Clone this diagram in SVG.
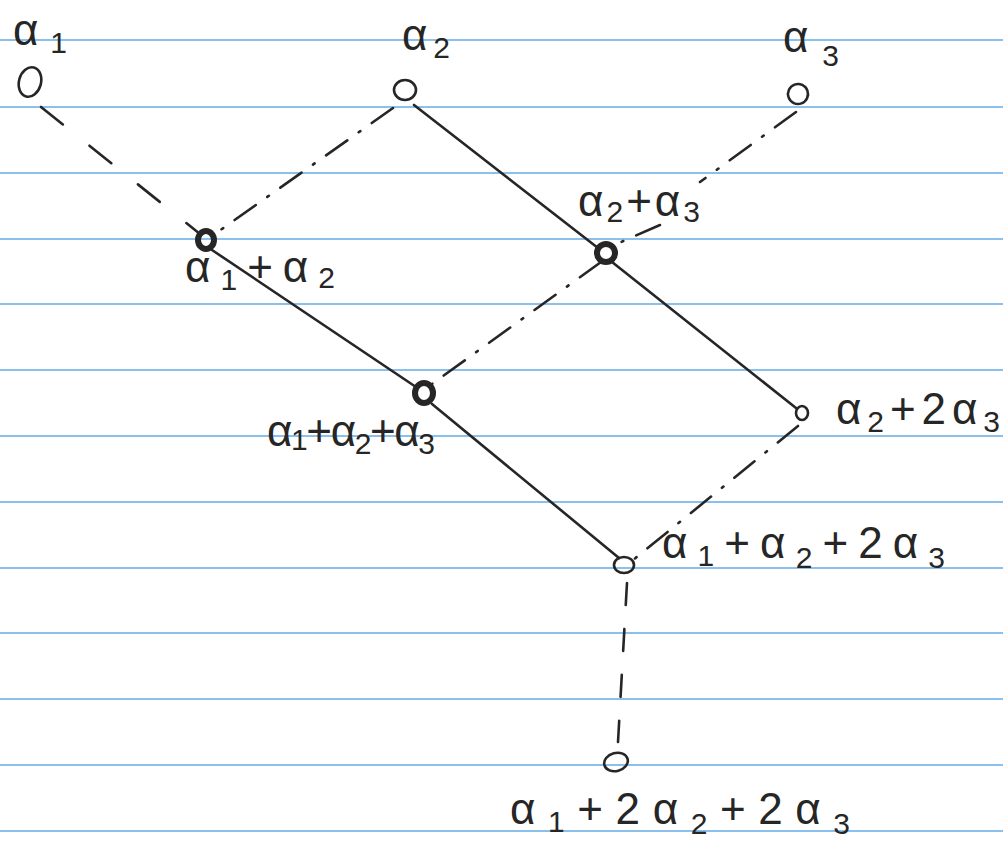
<svg xmlns="http://www.w3.org/2000/svg" width="1003" height="843" viewBox="0 0 1003 843">
<style>
.rule{stroke:#8cc0ec;stroke-width:2.2}
.ink{stroke:#262626;fill:none;stroke-width:2.6;stroke-linecap:round}
.dash{stroke-dasharray:28 34}
.dd{stroke-dasharray:26 14 2 14}
.vd{stroke-dasharray:22 24}
.node{fill:none;stroke:#262626;stroke-width:2.6}
.bold{fill:none;stroke:#262626;stroke-width:6}
.lbl{font-family:"Liberation Sans","DejaVu Sans",sans-serif;font-size:44px;fill:#262626}
.sub{font-size:30px}
</style>
<rect width="1003" height="843" fill="#ffffff"/>
<g id="ruling">
<line class="rule" x1="0" y1="40" x2="1003" y2="40"/>
<line class="rule" x1="0" y1="107" x2="1003" y2="107"/>
<line class="rule" x1="0" y1="173" x2="1003" y2="173"/>
<line class="rule" x1="0" y1="239" x2="1003" y2="239"/>
<line class="rule" x1="0" y1="304" x2="1003" y2="304"/>
<line class="rule" x1="0" y1="370" x2="1003" y2="370"/>
<line class="rule" x1="0" y1="436" x2="1003" y2="436"/>
<line class="rule" x1="0" y1="502" x2="1003" y2="502"/>
<line class="rule" x1="0" y1="568" x2="1003" y2="568"/>
<line class="rule" x1="0" y1="633" x2="1003" y2="633"/>
<line class="rule" x1="0" y1="699" x2="1003" y2="699"/>
<line class="rule" x1="0" y1="765" x2="1003" y2="765"/>
<line class="rule" x1="0" y1="831" x2="1003" y2="831"/>
</g>
<g id="connectors">
<line class="ink dash" x1="41" y1="107" x2="200" y2="234"/>
<line class="ink dd" x1="393" y1="108" x2="212" y2="236"/>
<line class="ink" x1="414" y1="105" x2="598" y2="248"/>
<line class="ink dd" x1="796" y1="112" x2="700" y2="182"/>
<line class="ink dd" x1="660" y1="225" x2="612" y2="246"/>
<line class="ink" x1="212" y1="250" x2="416" y2="387"/>
<line class="ink dd" x1="601" y1="262" x2="432" y2="384"/>
<line class="ink" x1="612" y1="262" x2="796" y2="408"/>
<line class="ink" x1="432" y1="404" x2="619" y2="558"/>
<line class="ink dd" x1="798" y1="426" x2="633" y2="560"/>
<line class="ink vd" x1="627" y1="583" x2="618" y2="742"/>
</g>
<g id="n-a1"><ellipse class="node" cx="30" cy="82" rx="11" ry="15" transform="rotate(15 30 82)"/>
<text class="lbl" x="13" y="45" textLength="54" lengthAdjust="spacing">α<tspan class="sub" dy="8">1</tspan></text></g>
<g id="n-a2"><ellipse class="node" cx="405" cy="90" rx="11" ry="10"/>
<text class="lbl" x="402" y="50" textLength="48" lengthAdjust="spacing">α<tspan class="sub" dy="8">2</tspan></text></g>
<g id="n-a3"><ellipse class="node" cx="798" cy="94" rx="10" ry="10" transform="rotate(-20 798 94)"/>
<text class="lbl" x="783" y="52" textLength="56" lengthAdjust="spacing">α<tspan class="sub" dy="14">3</tspan></text></g>
<g id="n-a1a2"><ellipse class="bold" cx="206" cy="240" rx="8" ry="9"/>
<text class="lbl" x="185" y="282" textLength="150" lengthAdjust="spacing">α<tspan class="sub" dy="8">1</tspan><tspan dy="-8">+α</tspan><tspan class="sub" dy="6">2</tspan></text></g>
<g id="n-a2a3"><ellipse class="bold" cx="606" cy="253" rx="9" ry="9"/>
<text class="lbl" x="578" y="216" textLength="122" lengthAdjust="spacing">α<tspan class="sub" dy="6">2</tspan><tspan dy="-6">+α</tspan><tspan class="sub" dy="6">3</tspan></text></g>
<g id="n-a1a2a3"><ellipse class="bold" cx="424" cy="393" rx="9" ry="10"/>
<text class="lbl" x="267" y="446" textLength="168" lengthAdjust="spacing">α<tspan class="sub" dy="4">1</tspan><tspan dy="-4">+α</tspan><tspan class="sub" dy="8">2</tspan><tspan dy="-8">+α</tspan><tspan class="sub" dy="8">3</tspan></text></g>
<g id="n-a2_2a3"><ellipse class="node" cx="802" cy="413" rx="6" ry="7"/>
<text class="lbl" x="836" y="424" textLength="164" lengthAdjust="spacing">α<tspan class="sub" dy="8">2</tspan><tspan dy="-8">+2α</tspan><tspan class="sub" dy="8">3</tspan></text></g>
<g id="n-a1a2_2a3"><ellipse class="node" cx="624" cy="565" rx="10" ry="8"/>
<text class="lbl" x="662" y="558" textLength="283" lengthAdjust="spacing">α<tspan class="sub" dy="8">1</tspan><tspan dy="-8">+α</tspan><tspan class="sub" dy="10">2</tspan><tspan dy="-10">+2α</tspan><tspan class="sub" dy="10">3</tspan></text></g>
<g id="n-a1_2a2_2a3"><ellipse class="node" cx="616" cy="762" rx="12" ry="9" transform="rotate(-15 616 762)"/>
<text class="lbl" x="510" y="824" textLength="340" lengthAdjust="spacing">α<tspan class="sub" dy="8">1</tspan><tspan dy="-8">+2α</tspan><tspan class="sub" dy="10">2</tspan><tspan dy="-10">+2α</tspan><tspan class="sub" dy="10">3</tspan></text></g>
</svg>
